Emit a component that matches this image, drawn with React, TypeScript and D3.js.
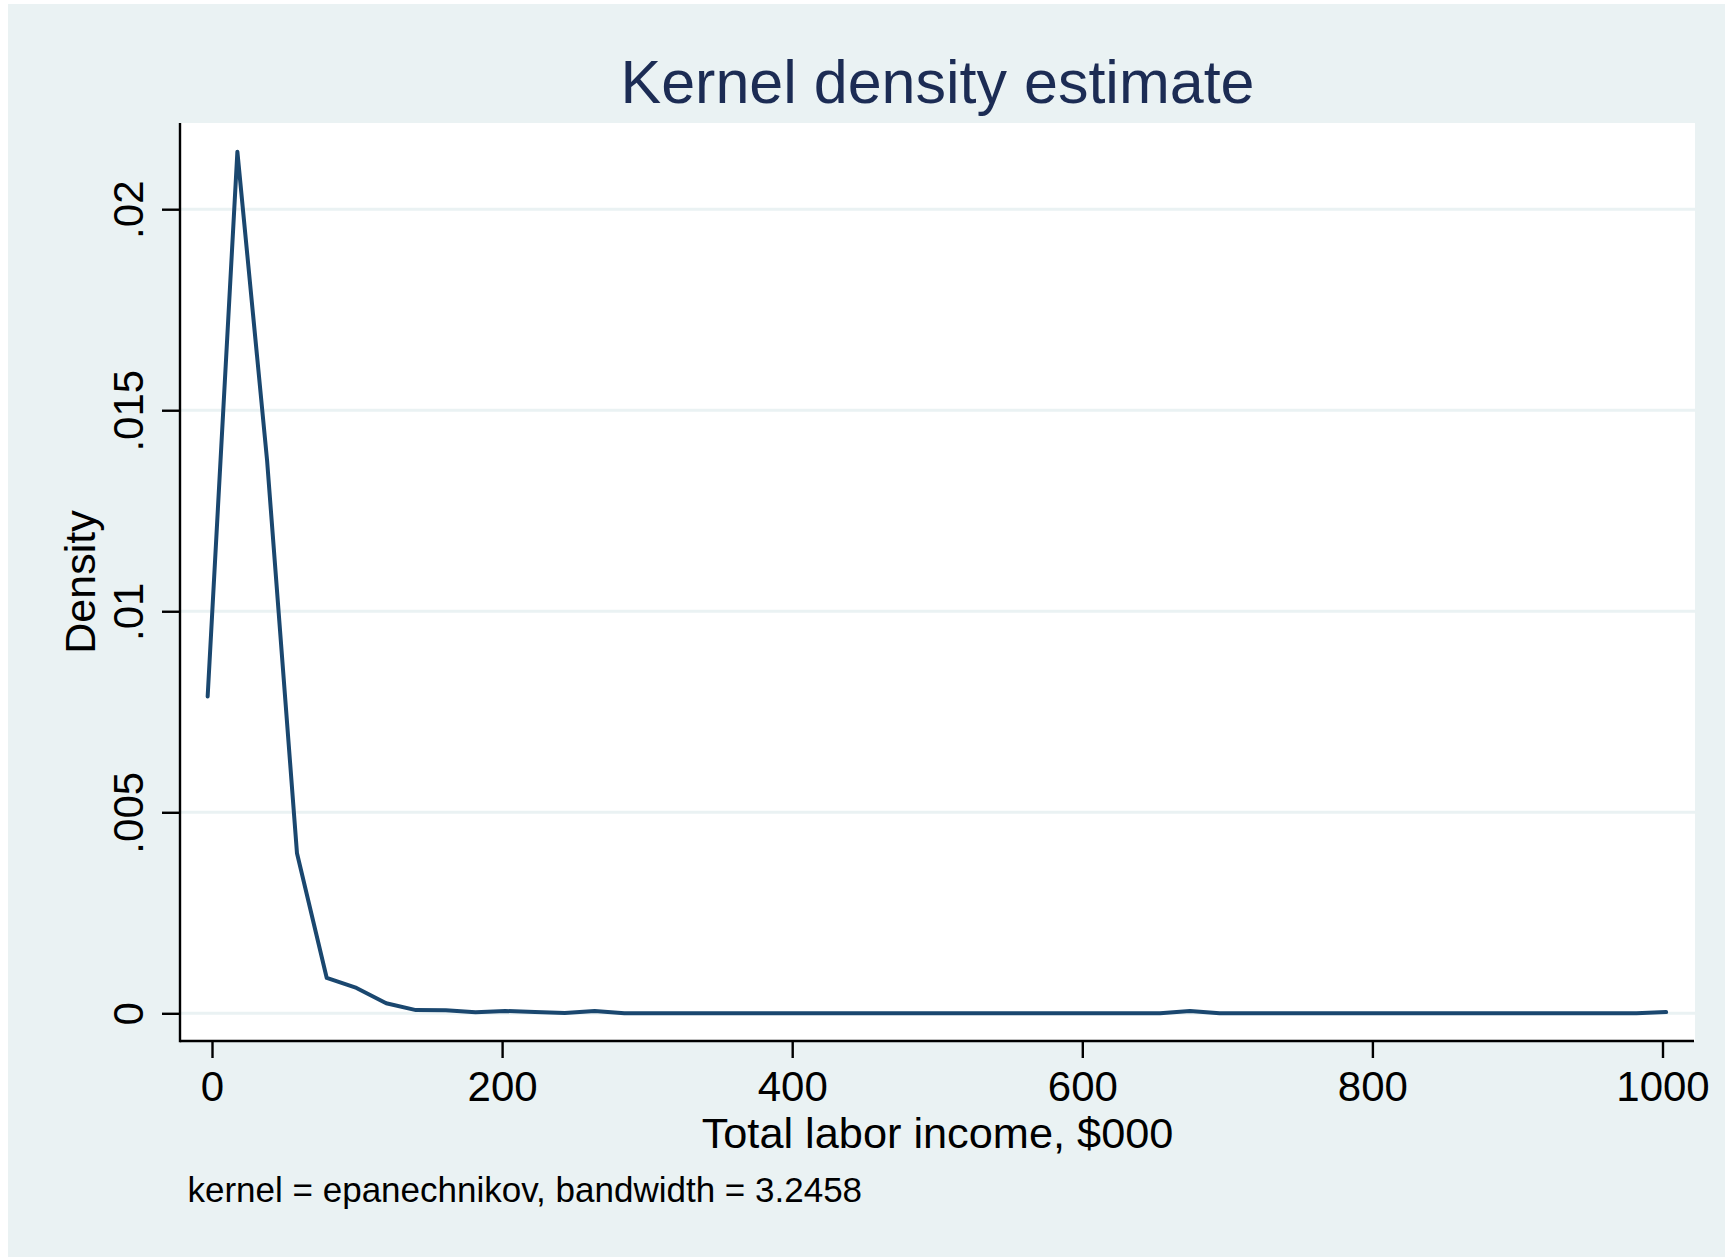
import { useEffect, useRef } from "react";
import * as d3 from "d3";

// evaluation points of the kdensity curve ($000)
const incomeX = [
  -3.0, 17.5, 38.0, 58.6, 79.1, 99.6, 120.1, 140.6, 161.2, 181.7,
  202.2, 222.7, 243.2, 263.8, 284.3, 304.8, 325.3, 345.8, 366.4, 386.9,
  407.4, 427.9, 448.4, 469.0, 489.5, 510.0, 530.5, 551.0, 571.6, 592.1,
  612.6, 633.1, 653.6, 674.2, 694.7, 715.2, 735.7, 756.2, 776.8, 797.3,
  817.8, 838.3, 858.8, 879.4, 899.9, 920.4, 940.9, 961.4, 982.0, 1002.5,
];

// density
const densityY = [
  0.00788, 0.02143, 0.01374, 0.00398, 0.00088, 0.00063, 0.00025, 0.00008, 0.000075, 0.000025,
  0.000057, 0.000032, 0.000005, 0.000057, 0, 0, 0, 0, 0, 0,
  0, 0, 0, 0, 0, 0, 0, 0, 0, 0,
  0, 0, 0, 0.00006, 0, 0, 0, 0, 0, 0,
  0, 0, 0, 0, 0, 0, 0, 0, 0, 0.00003,
];

const xTicks = [0, 200, 400, 600, 800, 1000];
const yTicks = [0, 0.005, 0.01, 0.015, 0.02];
const yTickLabels = ["0", ".005", ".01", ".015", ".02"];

const titleText = "Kernel density estimate";
const xTitle = "Total labor income, $000";
const yTitle = "Density";
const noteText = "kernel = epanechnikov, bandwidth = 3.2458";

const W = 1725;
const H = 1257;
const FONT = "'Liberation Sans', Arial, Helvetica, sans-serif";

const App = () => {
  const ref = useRef<SVGSVGElement | null>(null);

  useEffect(() => {
    if (!ref.current) return;
    const svg = d3.select(ref.current);
    svg.selectAll("*").remove();

    const plot = { left: 180, right: 1695, top: 123, bottom: 1041 };

    const x = d3.scaleLinear().domain([0, 1000]).range([212, 1662.5]);
    const y = d3.scaleLinear().domain([0, 0.02]).range([1013.3, 209.2]);

    // outer background
    svg.append("rect").attr("width", W).attr("height", H).attr("fill", "#ffffff");
    svg.append("rect")
      .attr("x", 8).attr("y", 4)
      .attr("width", W - 8).attr("height", H - 4)
      .attr("fill", "#eaf2f3");

    // plot region
    svg.append("rect")
      .attr("x", plot.left).attr("y", plot.top)
      .attr("width", plot.right - plot.left)
      .attr("height", plot.bottom - plot.top)
      .attr("fill", "#ffffff");

    // gridlines
    svg.append("g")
      .selectAll("line")
      .data(yTicks)
      .enter()
      .append("line")
      .attr("x1", plot.left)
      .attr("x2", plot.right)
      .attr("y1", d => y(d))
      .attr("y2", d => y(d))
      .attr("stroke", "#eaf2f3")
      .attr("stroke-width", 3);

    // density line
    const pts = incomeX.map((v, i) => [v, densityY[i]] as [number, number]);
    const line = d3.line<[number, number]>()
      .x(d => x(d[0]))
      .y(d => y(d[1]));

    svg.append("path")
      .datum(pts)
      .attr("d", line)
      .attr("fill", "none")
      .attr("stroke", "#1a476f")
      .attr("stroke-width", 4)
      .attr("stroke-linejoin", "round")
      .attr("stroke-linecap", "round");

    // axes
    const xAxis = d3.axisBottom(x)
      .tickValues(xTicks)
      .tickSize(17)
      .tickPadding(13)
      .tickFormat(d3.format("d"));

    const gx = svg.append("g")
      .attr("transform", `translate(0, ${plot.bottom})`)
      .call(xAxis);
    gx.select(".domain")
      .attr("d", `M${plot.left},0H${plot.right - 1}`)
      .attr("stroke", "#000")
      .attr("stroke-width", 2.4);
    gx.selectAll(".tick line").attr("stroke", "#000").attr("stroke-width", 2.4);
    gx.selectAll(".tick text")
      .attr("fill", "#000")
      .attr("font-family", FONT)
      .attr("font-size", 42);

    const yAxis = d3.axisLeft(y)
      .tickValues(yTicks)
      .tickSize(18)
      .tickFormat((_, i) => yTickLabels[i]);

    const gy = svg.append("g")
      .attr("transform", `translate(${plot.left}, 0)`)
      .call(yAxis);
    gy.select(".domain")
      .attr("d", `M0,${plot.top}V${plot.bottom + 1.2}`)
      .attr("stroke", "#000")
      .attr("stroke-width", 2.4);
    gy.selectAll(".tick line").attr("stroke", "#000").attr("stroke-width", 2.4);
    gy.selectAll(".tick text")
      .attr("fill", "#000")
      .attr("font-family", FONT)
      .attr("font-size", 42)
      .attr("text-anchor", "middle")
      .attr("x", null)
      .attr("dy", null)
      .attr("transform", "translate(-37, 0) rotate(-90)");

    // titles
    svg.append("text")
      .attr("x", (plot.left + plot.right) / 2)
      .attr("y", 103)
      .attr("text-anchor", "middle")
      .attr("font-family", FONT)
      .attr("font-size", 61)
      .attr("fill", "#1c2c54")
      .text(titleText);

    svg.append("text")
      .attr("x", (plot.left + plot.right) / 2)
      .attr("y", 1148)
      .attr("text-anchor", "middle")
      .attr("font-family", FONT)
      .attr("font-size", 43.3)
      .attr("fill", "#000")
      .text(xTitle);

    svg.append("text")
      .attr("transform", `translate(95, ${(plot.top + plot.bottom) / 2}) rotate(-90)`)
      .attr("text-anchor", "middle")
      .attr("font-family", FONT)
      .attr("font-size", 43)
      .attr("fill", "#000")
      .text(yTitle);

    svg.append("text")
      .attr("x", 187.5)
      .attr("y", 1202)
      .attr("font-family", FONT)
      .attr("font-size", 35)
      .attr("fill", "#000")
      .text(noteText);
  }, []);

  return (
    <svg
      ref={ref}
      width={W}
      height={H}
      viewBox={`0 0 ${W} ${H}`}
      style={{ position: "absolute", left: 0, top: 0, display: "block" }}
    />
  );
};

export default App;
